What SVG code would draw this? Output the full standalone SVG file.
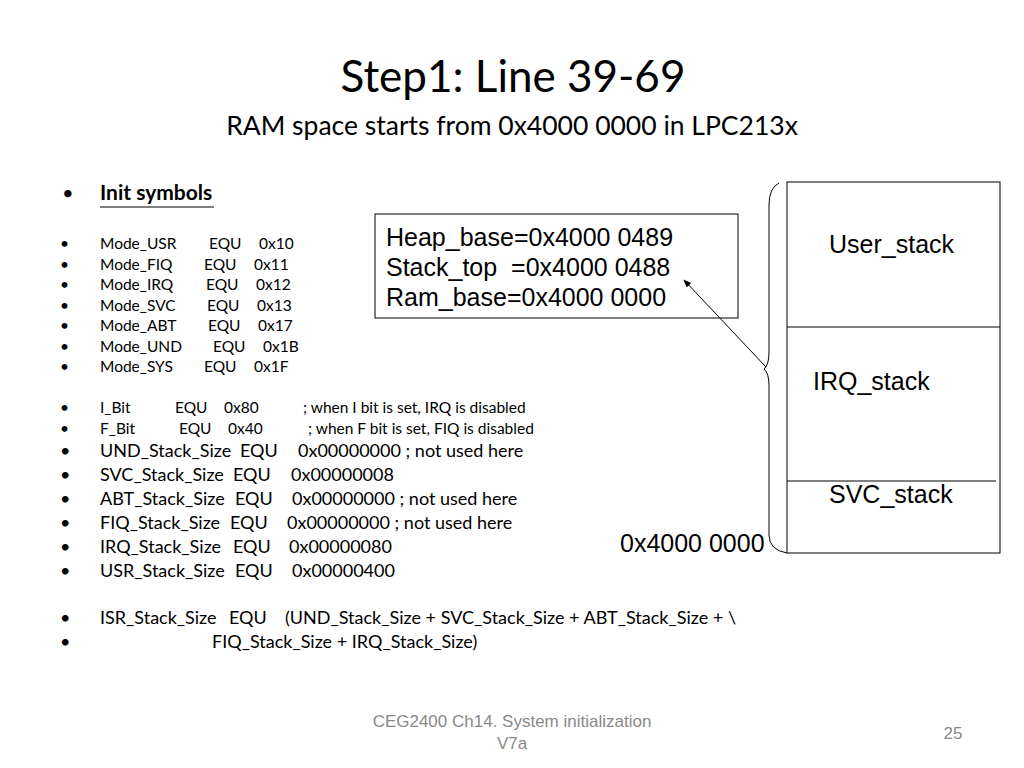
<svg xmlns="http://www.w3.org/2000/svg" width="1024" height="768" viewBox="0 0 1024 768">
<style>
.c{font-family:Lato,"Open Sans",sans-serif;fill:#000}
.a{font-family:"Liberation Sans",Arial,sans-serif;fill:#000}
.s{font-size:15.5px}
.m{font-size:18px}
.b{font-size:25px}
.f{font-family:"Liberation Sans",Arial,sans-serif;fill:#898989;font-size:17px}
.ln{stroke:#000;stroke-width:1;fill:none}
</style>
<defs>
<marker id="ah" viewBox="0 0 10 10" refX="9" refY="5" markerWidth="8" markerHeight="8" orient="auto" markerUnits="userSpaceOnUse">
<path d="M0,1 L10,5 L0,9 z" fill="#000"/>
</marker>
</defs>
<rect width="1024" height="768" fill="#fff"/>
<g id="title">
<text class="c" x="513" y="92" font-size="44" text-anchor="middle">Step1: Line 39-69</text>
<text class="c" x="512" y="135" font-size="26.5" text-anchor="middle">RAM space starts from 0x4000 0000 in LPC213x</text>
</g>
<g id="code">
<text class="c" x="62" y="200" font-size="20">•</text>
<text class="c" x="100" y="200" font-size="21" font-weight="bold">Init symbols</text>
<line x1="100" y1="207" x2="214" y2="207" stroke="#000" stroke-width="1"/>
<g class="c s">
<text x="60" y="249">•</text><text x="100" y="249">Mode_USR</text><text x="209" y="249">EQU</text><text x="259" y="249">0x10</text>
<text x="60" y="270">•</text><text x="100" y="270">Mode_FIQ</text><text x="204" y="270">EQU</text><text x="254" y="270">0x11</text>
<text x="60" y="290">•</text><text x="100" y="290">Mode_IRQ</text><text x="206" y="290">EQU</text><text x="256" y="290">0x12</text>
<text x="60" y="311">•</text><text x="100" y="311">Mode_SVC</text><text x="207" y="311">EQU</text><text x="257" y="311">0x13</text>
<text x="60" y="331">•</text><text x="100" y="331">Mode_ABT</text><text x="208" y="331">EQU</text><text x="258" y="331">0x17</text>
<text x="60" y="352">•</text><text x="100" y="352">Mode_UND</text><text x="213" y="352">EQU</text><text x="263" y="352">0x1B</text>
<text x="60" y="372">•</text><text x="100" y="372">Mode_SYS</text><text x="204" y="372">EQU</text><text x="254" y="372">0x1F</text>
<text x="60" y="413">•</text><text x="100" y="413">I_Bit</text><text x="175" y="413">EQU</text><text x="224" y="413">0x80</text><text x="303" y="413">; when I bit is set, IRQ is disabled</text>
<text x="60" y="434">•</text><text x="100" y="434">F_Bit</text><text x="179" y="434">EQU</text><text x="228" y="434">0x40</text><text x="308" y="434">; when F bit is set, FIQ is disabled</text>
</g>
<g class="c m">
<text x="60" y="457">•</text><text x="100" y="457">UND_Stack_Size</text><text x="240" y="457">EQU</text><text x="298" y="457">0x00000000 ; not used here</text>
<text x="60" y="481">•</text><text x="100" y="481">SVC_Stack_Size</text><text x="233" y="481">EQU</text><text x="291" y="481">0x00000008</text>
<text x="60" y="505">•</text><text x="100" y="505">ABT_Stack_Size</text><text x="235" y="505">EQU</text><text x="292" y="505">0x00000000 ; not used here</text>
<text x="60" y="529">•</text><text x="100" y="529">FIQ_Stack_Size</text><text x="230" y="529">EQU</text><text x="287" y="529">0x00000000 ; not used here</text>
<text x="60" y="553">•</text><text x="100" y="553">IRQ_Stack_Size</text><text x="233" y="553">EQU</text><text x="289" y="553">0x00000080</text>
<text x="60" y="577">•</text><text x="100" y="577">USR_Stack_Size</text><text x="235" y="577">EQU</text><text x="292" y="577">0x00000400</text>
<text x="60" y="624">•</text><text x="100" y="624">ISR_Stack_Size</text><text x="229" y="624">EQU</text><text x="285" y="624">(UND_Stack_Size + SVC_Stack_Size + ABT_Stack_Size + \</text>
<text x="60" y="648">•</text><text x="212" y="648">FIQ_Stack_Size + IRQ_Stack_Size)</text>
</g>
</g>
<g id="pointers">
<rect x="375" y="214" width="363" height="104" fill="#fff" stroke="#000" stroke-width="1"/>
<text class="a b" x="386" y="246">Heap_base=0x4000 0489</text>
<text class="a b" x="386" y="276" xml:space="preserve">Stack_top  =0x4000 0488</text>
<text class="a b" x="386" y="306">Ram_base=0x4000 0000</text>
</g>
<g id="memory">
<rect x="787" y="182" width="213" height="371" fill="#fff" stroke="#000" stroke-width="1"/>
<line x1="787" y1="327" x2="1000" y2="327" stroke="#000" stroke-width="1"/>
<line x1="787" y1="481" x2="996" y2="481" stroke="#000" stroke-width="1"/>
<text class="a b" x="829" y="253">User_stack</text>
<text class="a b" x="813" y="390">IRQ_stack</text>
<text class="a b" x="829" y="503">SVC_stack</text>
<text class="a b" x="620" y="552">0x4000 0000</text>
</g>
<g id="connectors">
<path class="ln" d="M779,183 Q769,188 769,205 L769,352 Q769,365 764,369 Q769,373 769,386 L769,535 Q769,550 787,553"/>
<line class="ln" x1="766" y1="367" x2="684" y2="280" marker-end="url(#ah)"/>
</g>
<g id="footer">
<text class="f" x="512" y="727" text-anchor="middle">CEG2400 Ch14. System initialization</text>
<text class="f" x="512" y="749" text-anchor="middle">V7a</text>
<text class="f" x="953" y="739" text-anchor="middle">25</text>
</g>
</svg>
